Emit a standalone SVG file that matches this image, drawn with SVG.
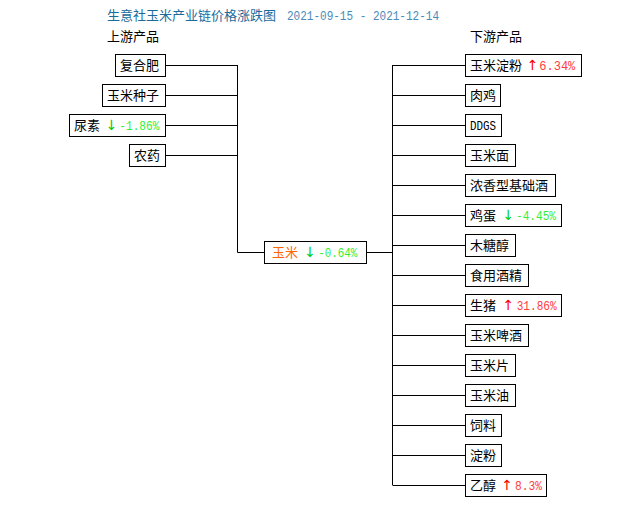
<svg xmlns="http://www.w3.org/2000/svg" width="630" height="505" viewBox="0 0 630 505">
<style>
.cn{font-family:"Noto Sans CJK SC","Liberation Sans",sans-serif;font-size:13px;fill:#000}
.mono{font-family:"Liberation Mono","DejaVu Sans Mono",monospace;font-size:13px}
.box{fill:#fff;stroke:#000;stroke-width:1}
.ln{stroke:#000;stroke-width:1;fill:none}
.dn{fill:#00cc00}
.dnv{fill:#33ee33}
.up{fill:#ff0000}
.upv{fill:#ff3b3b}
.arr{font-family:"DejaVu Sans",sans-serif;font-size:14px;text-anchor:middle}
</style>
<rect width="630" height="505" fill="#fff"/>
<g id="title">
<text x="107" y="20" class="cn" style="fill:#1a6b9c">生意社玉米产业链价格涨跌图</text>
<text x="287" y="20" class="mono" style="fill:#4a8ab8" textLength="152" lengthAdjust="spacingAndGlyphs">2021-09-15 - 2021-12-14</text>
</g>
<text x="107" y="41" class="cn">上游产品</text>
<text x="470" y="41" class="cn">下游产品</text>
<g id="connectors">
<path class="ln" d="M165 65.5H237.5M165 95.5H237.5M165 125.5H237.5M165 155.5H237.5M237.5 65V252.5H264"/>
<path class="ln" d="M367 252.5H392.5M392.5 65V485M392.5 65.5H465M392.5 95.5H465M392.5 125.5H465M392.5 155.5H465M392.5 185.5H465M392.5 215.5H465M392.5 245.5H465M392.5 275.5H465M392.5 305.5H465M392.5 335.5H465M392.5 365.5H465M392.5 395.5H465M392.5 425.5H465M392.5 455.5H465M392.5 485.5H465"/>
</g>
<g id="n-fuhefei"><rect class="box" x="115.5" y="54.5" width="50" height="22"/><text class="cn" x="120" y="70">复合肥</text></g>
<g id="n-yumizhongzi"><rect class="box" x="102.5" y="84.5" width="63" height="22"/><text class="cn" x="107" y="100">玉米种子</text></g>
<g id="n-niaosu"><rect class="box" x="69.5" y="114.5" width="96" height="22"/><text class="cn" x="74" y="130">尿素</text><text class="arr dn" x="111.7" y="130">↓</text><text class="mono dnv" x="119.3" y="130" textLength="40" lengthAdjust="spacingAndGlyphs">-1.86%</text></g>
<g id="n-nongyao"><rect class="box" x="129.5" y="144.5" width="36" height="22"/><text class="cn" x="134" y="160">农药</text></g>
<g id="n-yumi"><rect class="box" x="264.5" y="241.5" width="102" height="22"/><text class="cn" x="272" y="257" style="fill:#ff6600">玉米</text><text class="arr dn" x="310" y="257">↓</text><text class="mono dnv" x="318.3" y="257" textLength="39" lengthAdjust="spacingAndGlyphs">-0.64%</text></g>
<g id="n-yumidianfen"><rect class="box" x="465.5" y="54.5" width="116" height="22"/><text class="cn" x="470" y="70">玉米淀粉</text><text class="arr up" x="532.5" y="70">↑</text><text class="mono upv" x="539.3" y="70" textLength="36" lengthAdjust="spacingAndGlyphs">6.34%</text></g>
<g id="n-rouji"><rect class="box" x="465.5" y="84.5" width="35" height="22"/><text class="cn" x="470" y="100">肉鸡</text></g>
<g id="n-ddgs"><rect class="box" x="465.5" y="114.5" width="36" height="22"/><text class="mono" x="470" y="130" style="fill:#000" textLength="26" lengthAdjust="spacingAndGlyphs">DDGS</text></g>
<g id="n-yumimian"><rect class="box" x="465.5" y="144.5" width="50" height="22"/><text class="cn" x="470" y="160">玉米面</text></g>
<g id="n-nongxiang"><rect class="box" x="465.5" y="174.5" width="90" height="22"/><text class="cn" x="470" y="190">浓香型基础酒</text></g>
<g id="n-jidan"><rect class="box" x="465.5" y="204.5" width="96" height="22"/><text class="cn" x="470" y="220">鸡蛋</text><text class="arr dn" x="508.3" y="220">↓</text><text class="mono dnv" x="516" y="220" textLength="40" lengthAdjust="spacingAndGlyphs">-4.45%</text></g>
<g id="n-mutangchun"><rect class="box" x="465.5" y="234.5" width="50" height="22"/><text class="cn" x="470" y="250">木糖醇</text></g>
<g id="n-shiyongjiujing"><rect class="box" x="465.5" y="264.5" width="63" height="22"/><text class="cn" x="470" y="280">食用酒精</text></g>
<g id="n-shengzhu"><rect class="box" x="465.5" y="294.5" width="96" height="22"/><text class="cn" x="470" y="310">生猪</text><text class="arr up" x="508.3" y="310">↑</text><text class="mono upv" x="516.7" y="310" textLength="40" lengthAdjust="spacingAndGlyphs">31.86%</text></g>
<g id="n-yumipijiu"><rect class="box" x="465.5" y="324.5" width="63" height="22"/><text class="cn" x="470" y="340">玉米啤酒</text></g>
<g id="n-yumipian"><rect class="box" x="465.5" y="354.5" width="50" height="22"/><text class="cn" x="470" y="370">玉米片</text></g>
<g id="n-yumiyou"><rect class="box" x="465.5" y="384.5" width="50" height="22"/><text class="cn" x="470" y="400">玉米油</text></g>
<g id="n-siliao"><rect class="box" x="465.5" y="414.5" width="36" height="22"/><text class="cn" x="470" y="430">饲料</text></g>
<g id="n-dianfen"><rect class="box" x="465.5" y="444.5" width="36" height="22"/><text class="cn" x="470" y="460">淀粉</text></g>
<g id="n-yichun"><rect class="box" x="465.5" y="474.5" width="81" height="22"/><text class="cn" x="470" y="490">乙醇</text><text class="arr up" x="507" y="490">↑</text><text class="mono upv" x="515" y="490" textLength="27" lengthAdjust="spacingAndGlyphs">8.3%</text></g>
</svg>
